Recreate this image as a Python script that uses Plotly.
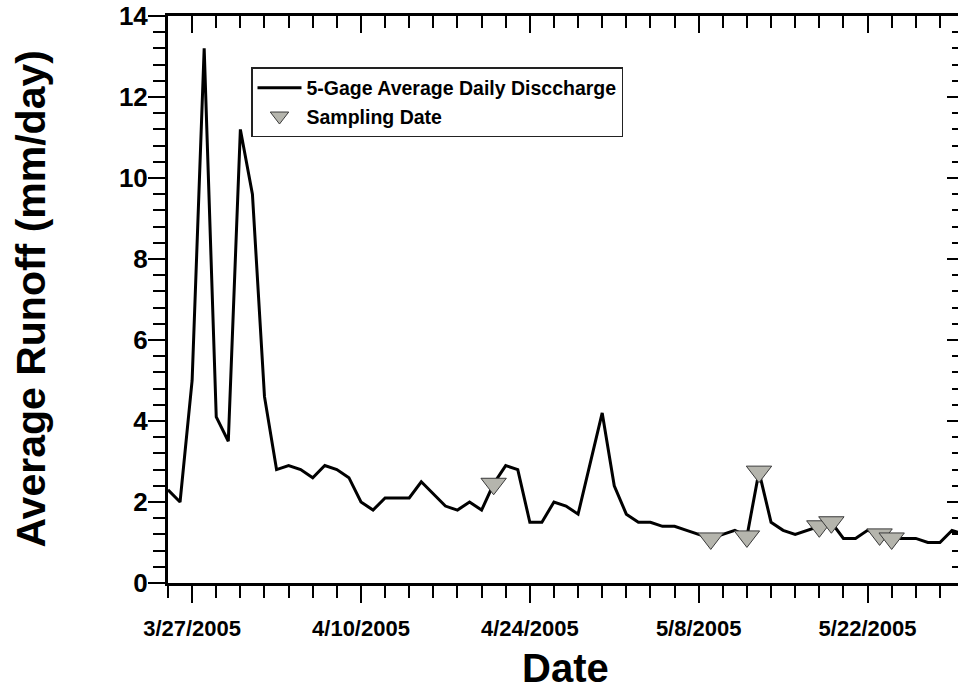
import plotly.graph_objects as go
import pandas as pd

# ---- data ----
start_date = "2005-03-25"
discharge = [2.3, 2.0, 5.0, 13.2, 4.1, 3.5, 11.2, 9.6, 4.6, 2.8,
             2.9, 2.8, 2.6, 2.9, 2.8, 2.6, 2.0, 1.8, 2.1, 2.1,
             2.1, 2.5, 2.2, 1.9, 1.8, 2.0, 1.8, 2.45, 2.9, 2.8,
             1.5, 1.5, 2.0, 1.9, 1.7, 2.95, 4.2, 2.4, 1.7, 1.5,
             1.5, 1.4, 1.4, 1.3, 1.2, 1.1, 1.2, 1.3, 1.15, 2.75,
             1.5, 1.3, 1.2, 1.3, 1.4, 1.5, 1.1, 1.1, 1.3, 1.2,
             1.1, 1.1, 1.1, 1.0, 1.0, 1.3, 1.2]
dates = pd.date_range(start_date, periods=len(discharge), freq="D")

sample_dates = ["2005-04-21", "2005-05-09", "2005-05-12", "2005-05-13",
                "2005-05-18", "2005-05-19", "2005-05-23", "2005-05-24"]
sample_values = [2.45, 1.1, 1.15, 2.75, 1.4, 1.5, 1.2, 1.1]

xtick_vals = ["2005-03-27", "2005-04-10", "2005-04-24", "2005-05-08", "2005-05-22"]
xtick_text = ["3/27/2005", "4/10/2005", "4/24/2005", "5/8/2005", "5/22/2005"]
ytick_vals = [0, 2, 4, 6, 8, 10, 12, 14]

x_range = ["2005-03-25", "2005-05-29 12:00"]
y_range = [0, 14]

FONT = "Liberation Sans, Arial, sans-serif"
DAY = 86400000

fig = go.Figure()
fig.add_trace(go.Scatter(
    x=dates, y=discharge, mode="lines",
    name="5-Gage Average Daily Disccharge",
    line=dict(color="black", width=3),
    xaxis="x", yaxis="y",
))
fig.add_trace(go.Scatter(
    x=sample_dates, y=sample_values, mode="markers",
    name="Sampling Date",
    marker=dict(symbol="triangle-down", size=22, color="#b5b5ad",
                line=dict(color="#3a3a3a", width=1)),
    xaxis="x", yaxis="y",
))
# invisible helper trace so the mirrored tick axes show
fig.add_trace(go.Scatter(x=[x_range[0]], y=[0], mode="markers", showlegend=False,
                         marker=dict(opacity=0), xaxis="x2", yaxis="y2", hoverinfo="skip"))

fig.update_layout(
    width=958, height=693,
    margin=dict(l=168, r=0, t=16, b=110),
    paper_bgcolor="white", plot_bgcolor="white",
    font=dict(family=FONT, color="black"),
    showlegend=True,
    legend=dict(
        x=(251 - 168) / 790, y=(583 - 67) / 567, xanchor="left", yanchor="top",
        bordercolor="#222", borderwidth=1.5, bgcolor="white",
        font=dict(family=FONT, size=19.5, weight="bold", color="black"),
        itemwidth=44, tracegroupgap=0,
    ),
    xaxis=dict(
        type="date", range=x_range, showgrid=False, zeroline=False,
        showline=True, linecolor="black", linewidth=3, mirror=True,
        tickmode="array", tickvals=xtick_vals, ticktext=xtick_text,
        ticks="outside", ticklen=17, tickwidth=2, tickcolor="black",
        ticklabelstandoff=7,
        tickfont=dict(family=FONT, size=22, weight="bold"),
        minor=dict(tickmode="linear", tick0="2005-03-25", dtick=2 * DAY,
                   ticks="outside", ticklen=12, tickwidth=2, tickcolor="black",
                   showgrid=False),
    ),
    xaxis2=dict(
        type="date", range=x_range, overlaying="x", side="top",
        showgrid=False, zeroline=False, showline=False, showticklabels=False,
        tickmode="array", tickvals=xtick_vals,
        ticks="inside", ticklen=17, tickwidth=2, tickcolor="black",
        minor=dict(tickmode="linear", tick0="2005-03-25", dtick=2 * DAY,
                   ticks="inside", ticklen=12, tickwidth=2, tickcolor="black",
                   showgrid=False),
    ),
    yaxis=dict(
        range=y_range, showgrid=False, zeroline=False,
        showline=True, linecolor="black", linewidth=3,
        tickmode="array", tickvals=ytick_vals,
        ticks="outside", ticklen=17, tickwidth=2, tickcolor="black",
        ticklabelstandoff=-5,
        tickfont=dict(family=FONT, size=26, weight="bold"),
        minor=dict(dtick=0.4, tick0=0, ticks="outside", ticklen=12,
                   tickwidth=2, tickcolor="black", showgrid=False),
    ),
    yaxis2=dict(
        range=y_range, overlaying="y", side="right", anchor="x",
        showgrid=False, zeroline=False, showline=False, showticklabels=False,
        tickmode="array", tickvals=ytick_vals,
        ticks="inside", ticklen=11, tickwidth=2, tickcolor="black",
        minor=dict(dtick=0.4, tick0=0, ticks="inside", ticklen=6,
                   tickwidth=2, tickcolor="black", showgrid=False),
    ),
    annotations=[
        dict(text="Average Runoff (mm/day)", textangle=-90,
             xref="paper", yref="paper", x=(30 - 168) / 790, y=0.5,
             xanchor="center", yanchor="middle", showarrow=False,
             font=dict(family=FONT, size=41, weight="bold", color="black")),
        dict(text="Date", xref="paper", yref="paper",
             x=(565 - 168) / 790, y=(583 - 668) / 567,
             xanchor="center", yanchor="middle", showarrow=False,
             font=dict(family=FONT, size=40, weight="bold", color="black")),
    ],
)

fig.write_html("out.html")
